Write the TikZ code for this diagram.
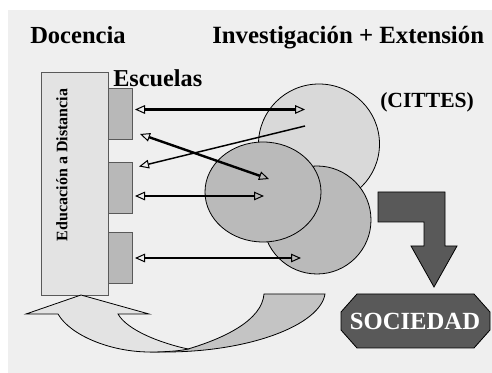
\documentclass[tikz,border=0pt]{standalone}
\usepackage{fontspec}
\setmainfont{Liberation Serif}
\usetikzlibrary{arrows.meta}
\definecolor{bgc}{gray}{0.937}
\definecolor{pale}{gray}{0.89}
\definecolor{midg}{gray}{0.72}
\definecolor{circa}{gray}{0.85}
\definecolor{circb}{gray}{0.73}
\definecolor{darkg}{gray}{0.35}
\definecolor{swoop}{gray}{0.77}
\tikzset{
  x=0.75pt,y=-0.75pt,
  outl/.style={draw=black,line width=0.6pt},
  boxout/.style={draw=black!65,line width=0.9pt},
  lbl/.style={font=\bfseries,inner sep=0pt,text=black},
  opentip/.tip={Triangle[open,length=7.5pt,width=6.5pt,line width=0.75pt]},
  dbl/.style={opentip-opentip},
  sgl/.style={opentip-},
}
\begin{document}
\begin{tikzpicture}
\useasboundingbox (0,0) rectangle (492,373);
\fill[white] (0,0) rectangle (492,373);
\fill[bgc] (8,10) rectangle (492,373);
% main box and school boxes
\node[boxout,fill=pale,minimum width=50pt,minimum height=167pt,inner sep=0pt,anchor=north west] (edu) at (41,72) {};
\node[boxout,fill=midg,minimum width=18pt,minimum height=38pt,inner sep=0pt,anchor=north west] (esa) at (108,88) {};
\node[boxout,fill=midg,minimum width=18pt,minimum height=38pt,inner sep=0pt,anchor=north west] (esb) at (108,162) {};
\node[boxout,fill=midg,minimum width=18pt,minimum height=38pt,inner sep=0pt,anchor=north west] (esc) at (108,232) {};
\node[lbl,font=\bfseries\fontsize{12}{12}\selectfont,rotate=90] (edt) at (62,165) {Educación a Distancia};
% circles
\draw[outl,fill=circa] (319,144) ellipse [x radius=60.5,y radius=60] coordinate (cita);
\draw[outl,fill=circb] (317,220) ellipse [x radius=54,y radius=54] coordinate (citb);
\draw[outl,fill=circb] (263,192) ellipse [x radius=58,y radius=50] coordinate (citc);
% swoop arrow
\draw[outl,fill=swoop] (264,294) -- (325,294) .. controls (320,325) and (250,352) .. (165,352) -- (150,352) -- (188,349) .. controls (225,338) and (262,320) .. (264,294) -- cycle;
\draw[outl,fill=pale] (81,295) -- (149,314) -- (118,314) .. controls (127,330) and (160,343) .. (188,349) .. controls (180,351) and (165,352) .. (150,352) .. controls (110,352) and (70,335) .. (58,314) -- (26,314) -- cycle;
% arrows
\coordinate (a1l) at (135,109.5); \coordinate (a1r) at (305,109.5);
\coordinate (a2r) at (305,126); \coordinate (a2l) at (139,166.5);
\coordinate (a3l) at (140,134); \coordinate (a3r) at (269,179);
\coordinate (a4l) at (135,196); \coordinate (a4r) at (264,196);
\coordinate (a5l) at (135,258); \coordinate (a5r) at (301,258);
\draw[dbl,line width=1.6pt] (a1l) -- (a1r);
\draw[sgl,line width=1.1pt] (a2l) -- (a2r);
\draw[dbl,line width=1.8pt] (a3l) -- (a3r);
\draw[dbl,line width=1pt] (a4l) -- (a4r);
\draw[dbl,line width=1pt] (a5l) -- (a5r);
% down arrow
\draw[outl,fill=darkg] (378,192) -- (445,192) -- (445,246) -- (457,246) -- (434,287) -- (411,246) -- (424,246) -- (424,222) -- (378,222) -- cycle;
% sociedad
\draw[outl,fill=darkg] (357,294) -- (474,294) -- (490,312) -- (490,330) -- (474,348) -- (357,348) -- (341,330) -- (341,312) -- cycle;
\node[lbl,text=white,font=\bfseries\fontsize{18.5}{18.5}\selectfont] (soc) at (415,321) {SOCIEDAD};
% labels
\node[lbl,font=\bfseries\fontsize{18.4}{18.4}\selectfont,anchor=base west] (doc) at (30,44) {Docencia};
\node[lbl,font=\bfseries\fontsize{18.6}{18.6}\selectfont,anchor=base west] (inv) at (212,44) {Investigación + Extensión};
\node[lbl,font=\bfseries\fontsize{18.2}{18.2}\selectfont,anchor=base west] (esl) at (113,87) {Escuelas};
\node[lbl,font=\bfseries\fontsize{16.2}{16.2}\selectfont,anchor=base west] (cit) at (380,108) {(CITTES)};
\end{tikzpicture}
\end{document}
